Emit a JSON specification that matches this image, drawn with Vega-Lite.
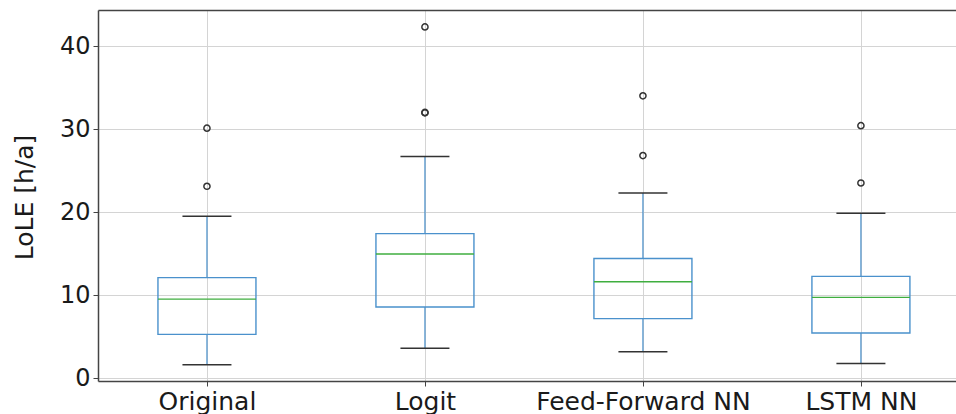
{
  "$schema": "https://vega.github.io/schema/vega-lite/v6.json",
  "autosize": "none",
  "width": 858,
  "height": 371,
  "padding": {"left": 98, "top": 10, "right": 0, "bottom": 33},
  "background": "white",
  "config": {
    "view": {"stroke": null},
    "font": "DejaVu Sans",
    "axis": {"labelFont": "DejaVu Sans", "titleFont": "DejaVu Sans"}
  },
  "datasets": {
    "boxes": [
      {"model": "Original", "low": 1.6, "q1": 5.26, "median": 9.5, "q3": 12.1, "high": 19.5},
      {"model": "Logit", "low": 3.6, "q1": 8.55, "median": 14.94, "q3": 17.4, "high": 26.7},
      {"model": "Feed-Forward NN", "low": 3.17, "q1": 7.15, "median": 11.6, "q3": 14.4, "high": 22.3},
      {"model": "LSTM NN", "low": 1.76, "q1": 5.42, "median": 9.72, "q3": 12.25, "high": 19.84}
    ],
    "outliers": [
      {"model": "Original", "value": 23.1},
      {"model": "Original", "value": 30.1},
      {"model": "Logit", "value": 31.95},
      {"model": "Logit", "value": 32.0},
      {"model": "Logit", "value": 42.3},
      {"model": "Feed-Forward NN", "value": 26.8},
      {"model": "Feed-Forward NN", "value": 34.0},
      {"model": "LSTM NN", "value": 23.5},
      {"model": "LSTM NN", "value": 30.4}
    ]
  },
  "layer": [
    {
      "data": {"name": "boxes"},
      "mark": {"type": "rule", "color": "#4a91cc", "strokeWidth": 1.2},
      "encoding": {
        "x": {
          "field": "model",
          "type": "nominal",
          "scale": {"type": "point", "domain": ["Original", "Logit", "Feed-Forward NN", "LSTM NN"], "padding": 0.468, "align": 0.534},
          "axis": {
            "orient": "bottom",
            "title": null,
            "labelAngle": 0,
            "labelFontSize": 25,
            "labelLimit": 0,
            "labelColor": "#1a1a1a",
            "labelPadding": 3,
            "tickSize": 5,
            "tickColor": "#444",
            "domainColor": "#444",
            "domainWidth": 1.5,
            "grid": true,
            "gridColor": "#d4d4d4",
            "gridWidth": 1
          }
        },
        "y": {
          "field": "low",
          "type": "quantitative",
          "scale": {"domain": [-0.36, 44.34], "nice": false, "zero": false},
          "axis": {
            "title": "LoLE [h/a]",
            "titleFontSize": 25,
            "titleFontWeight": "normal",
            "titleColor": "#1a1a1a",
            "titleX": -74,
            "titleY": 187,
            "titleBaseline": "middle",
            "titleAlign": "center",
            "values": [0, 10, 20, 30, 40],
            "labelFontSize": 24,
            "labelColor": "#1a1a1a",
            "labelPadding": 3,
            "tickSize": 5,
            "tickColor": "#444",
            "domainColor": "#444",
            "domainWidth": 1.5,
            "grid": true,
            "gridColor": "#d4d4d4",
            "gridWidth": 1
          }
        },
        "y2": {"field": "q1"}
      }
    },
    {
      "data": {"name": "boxes"},
      "mark": {"type": "rule", "color": "#4a91cc", "strokeWidth": 1.2},
      "encoding": {
        "x": {"field": "model", "type": "nominal", "axis": null},
        "y": {"field": "q3", "type": "quantitative"},
        "y2": {"field": "high"}
      }
    },
    {
      "data": {"name": "boxes"},
      "mark": {"type": "bar", "width": 98, "fill": "transparent", "stroke": "#4a91cc", "strokeWidth": 1.4},
      "encoding": {
        "x": {"field": "model", "type": "nominal", "axis": null},
        "y": {"field": "q1", "type": "quantitative"},
        "y2": {"field": "q3"}
      }
    },
    {
      "data": {"name": "boxes"},
      "mark": {"type": "tick", "size": 98, "thickness": 1.4, "color": "#3fae3f", "opacity": 1},
      "encoding": {
        "x": {"field": "model", "type": "nominal", "axis": null},
        "y": {"field": "median", "type": "quantitative"}
      }
    },
    {
      "data": {"name": "boxes"},
      "mark": {"type": "tick", "size": 49, "thickness": 1.5, "color": "#333333", "opacity": 1},
      "encoding": {
        "x": {"field": "model", "type": "nominal", "axis": null},
        "y": {"field": "low", "type": "quantitative"}
      }
    },
    {
      "data": {"name": "boxes"},
      "mark": {"type": "tick", "size": 49, "thickness": 1.5, "color": "#333333", "opacity": 1},
      "encoding": {
        "x": {"field": "model", "type": "nominal", "axis": null},
        "y": {"field": "high", "type": "quantitative"}
      }
    },
    {
      "data": {"name": "outliers"},
      "mark": {"type": "point", "shape": "circle", "filled": false, "size": 38, "stroke": "#333333", "strokeWidth": 1.5, "opacity": 1},
      "encoding": {
        "y": {"field": "value", "type": "quantitative"},
        "x": {
          "field": "model",
          "type": "nominal",
          "axis": {"orient": "top", "title": null, "labels": false, "ticks": false, "grid": false, "domain": true, "domainColor": "#444", "domainWidth": 1.5}
        }
      }
    }
  ],
  "resolve": {"axis": {"x": "independent"}}
}
